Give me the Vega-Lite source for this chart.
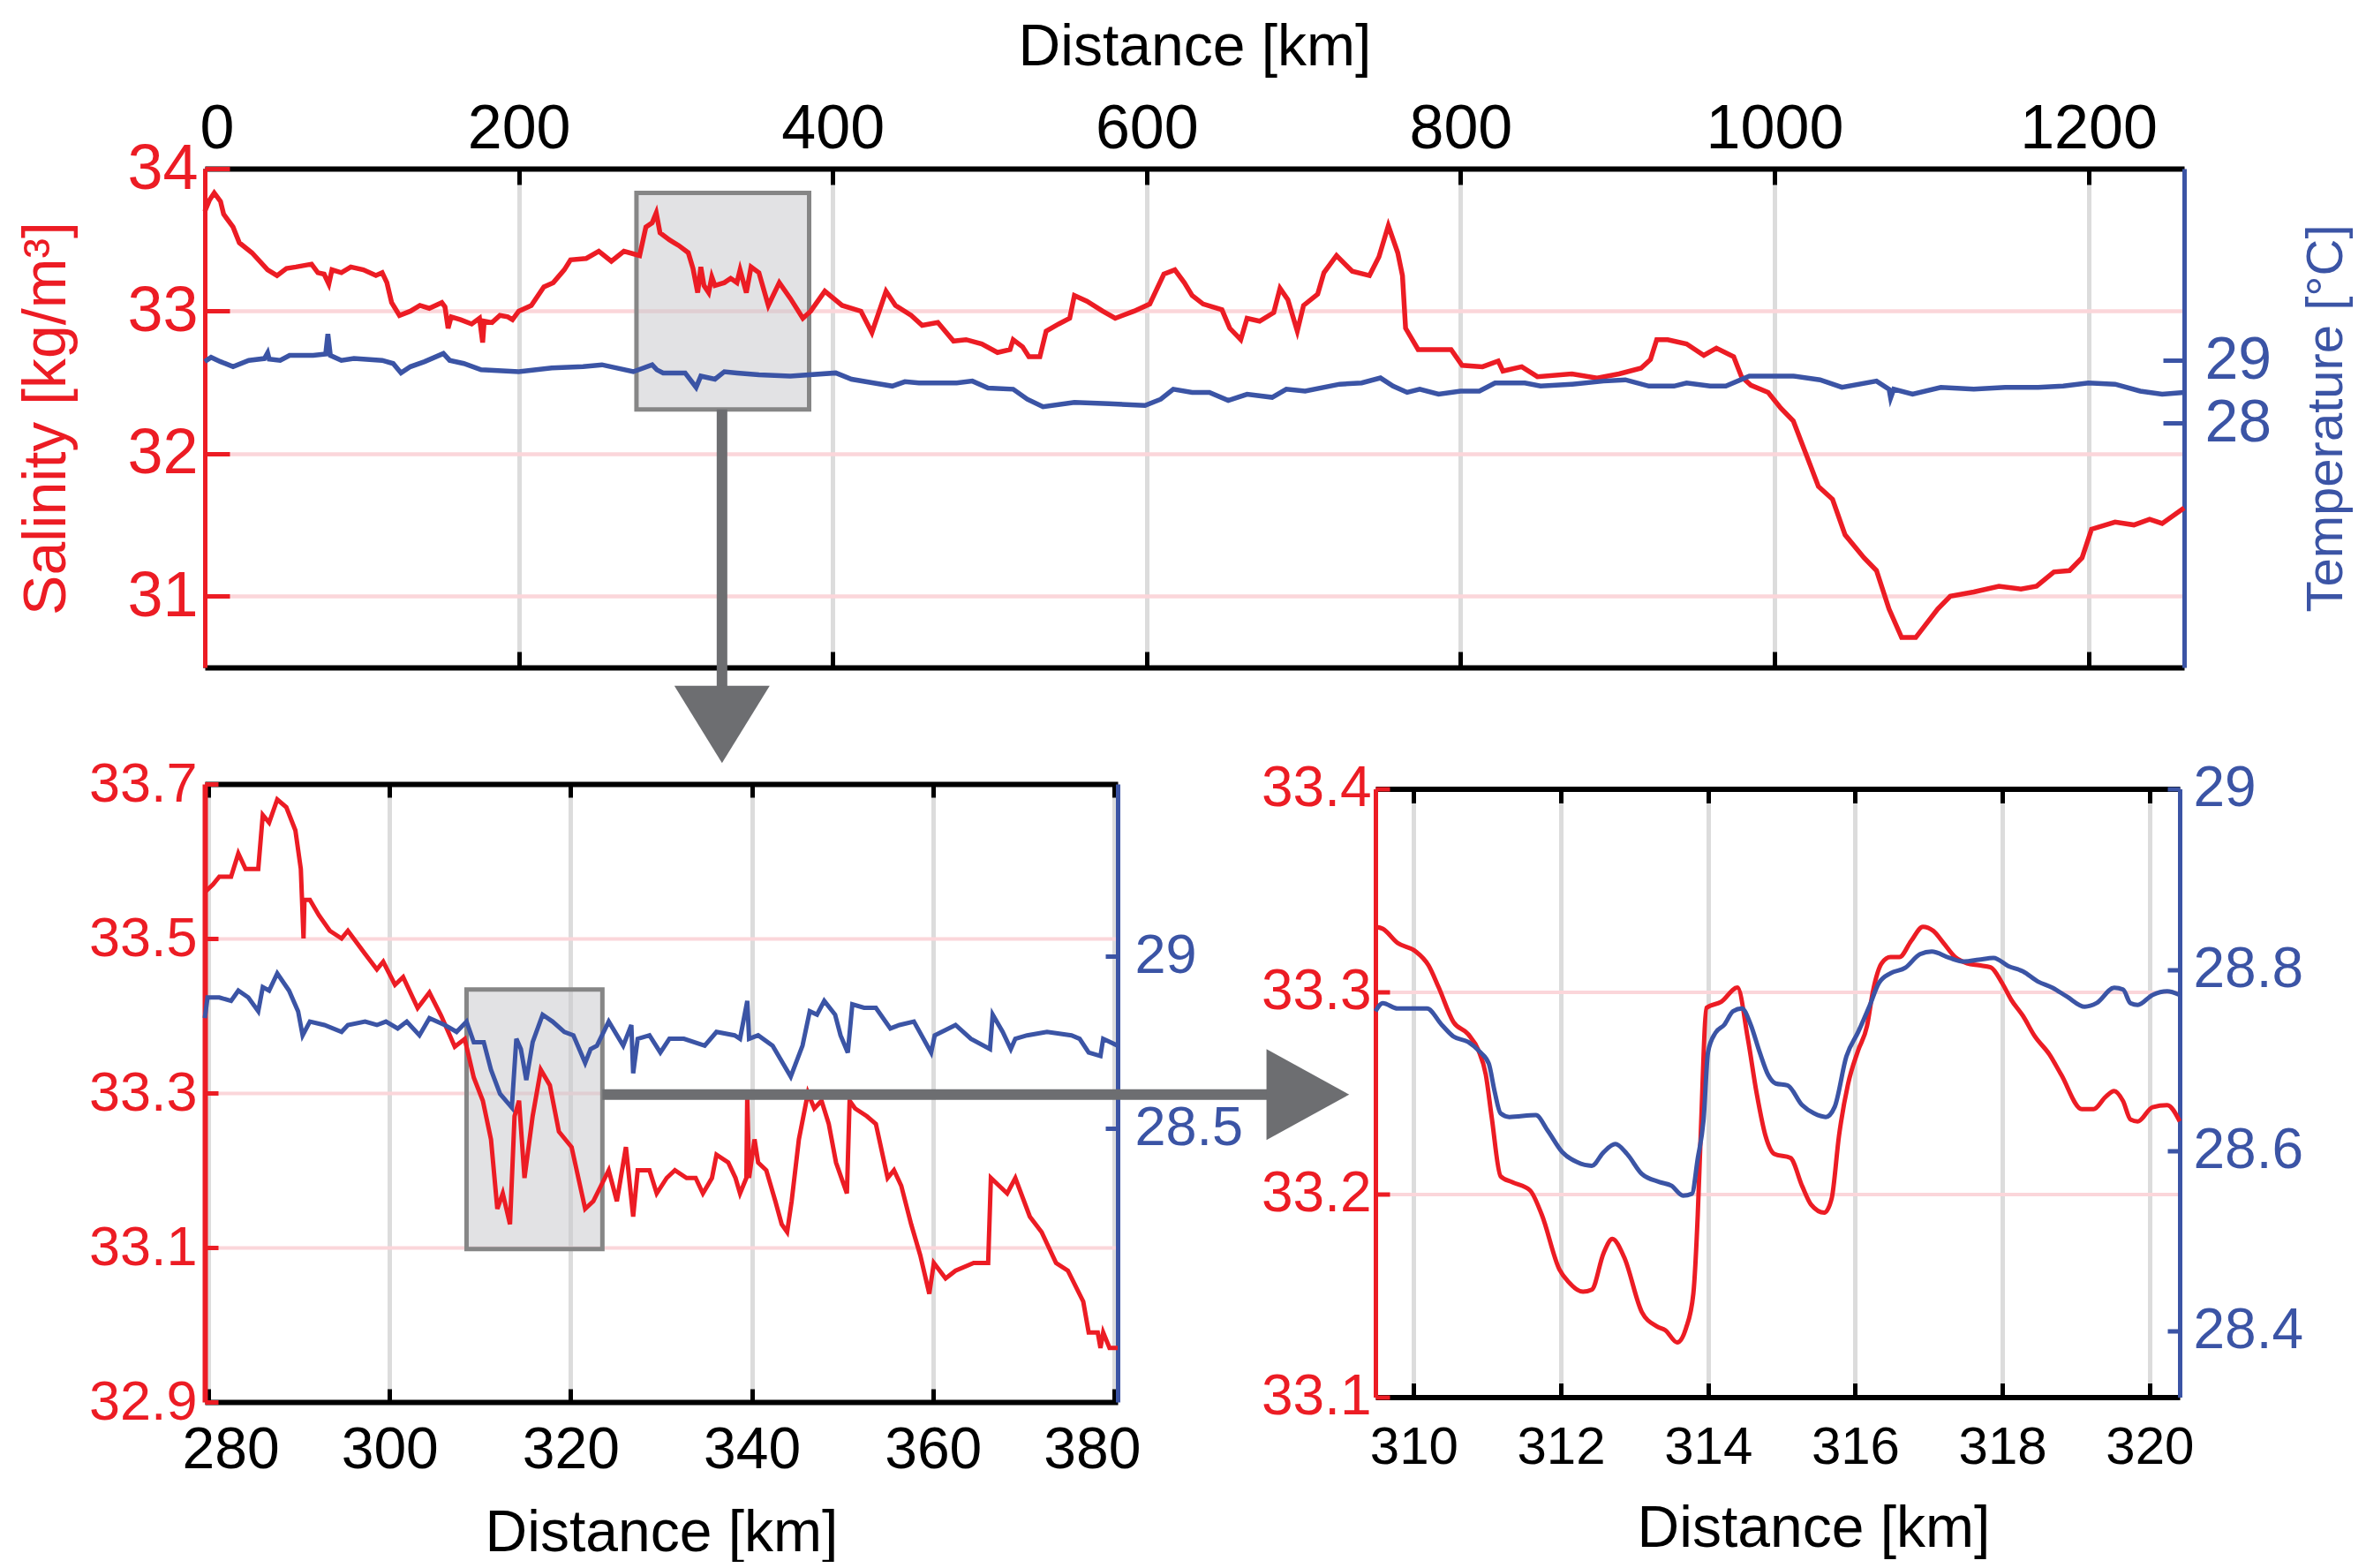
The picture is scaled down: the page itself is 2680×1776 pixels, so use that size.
{
"$schema": "https://vega.github.io/schema/vega-lite/v6.json",
"padding": {"left": 19, "top": 20, "right": 5, "bottom": 0},
"background": "white",
"config": {
  "view": {"stroke": null},
  "font": "Liberation Sans",
  "axis": {"labelFont": "Liberation Sans", "titleFont": "Liberation Sans", "titleFontWeight": "normal", "labelOverlap": false, "labelBound": false, "grid": false, "gridOpacity": 1, "tickOpacity": 1, "domainOpacity": 1}
},
"datasets": {
  "topSal": [
    {"d":0,"s":33.70},{"d":3,"s":33.78},{"d":6,"s":33.83},{"d":10,"s":33.77},{"d":12,"s":33.68},{"d":18,"s":33.59},{"d":22,"s":33.48},{"d":30,"s":33.41},{"d":40,"s":33.29},{"d":46,"s":33.25},{"d":52,"s":33.30},{"d":58,"s":33.31},{"d":68,"s":33.33},{"d":72,"s":33.27},{"d":76,"s":33.26},{"d":79,"s":33.19},{"d":81,"s":33.29},{"d":87,"s":33.27},{"d":93,"s":33.31},{"d":101,"s":33.29},{"d":109,"s":33.25},{"d":113,"s":33.27},{"d":116,"s":33.20},{"d":119,"s":33.06},{"d":124,"s":32.97},{"d":131,"s":33.00},{"d":137,"s":33.04},{"d":143,"s":33.02},{"d":151,"s":33.06},{"d":153,"s":33.03},{"d":155,"s":32.88},{"d":157,"s":32.96},{"d":163,"s":32.94},{"d":170,"s":32.91},{"d":175,"s":32.95},{"d":177,"s":32.78},{"d":178,"s":32.93},{"d":183,"s":32.92},{"d":188,"s":32.97},{"d":193,"s":32.96},{"d":196,"s":32.94},{"d":200,"s":33.00},{"d":208,"s":33.04},{"d":216,"s":33.17},{"d":222,"s":33.20},{"d":229,"s":33.29},{"d":233,"s":33.36},{"d":243,"s":33.37},{"d":251,"s":33.42},{"d":259,"s":33.35},{"d":267,"s":33.42},{"d":277,"s":33.39},{"d":281,"s":33.59},{"d":285,"s":33.62},{"d":287.6,"s":33.69},{"d":290,"s":33.55},{"d":296,"s":33.50},{"d":302,"s":33.46},{"d":308,"s":33.41},{"d":311,"s":33.30},{"d":314,"s":33.13},{"d":316,"s":33.31},{"d":318,"s":33.18},{"d":321,"s":33.13},{"d":323,"s":33.24},{"d":325,"s":33.18},{"d":331,"s":33.20},{"d":335,"s":33.23},{"d":339,"s":33.20},{"d":341,"s":33.29},{"d":345,"s":33.13},{"d":348,"s":33.31},{"d":353,"s":33.27},{"d":359,"s":33.04},{"d":366,"s":33.20},{"d":373,"s":33.09},{"d":381,"s":32.95},{"d":386,"s":33.00},{"d":395,"s":33.14},{"d":406,"s":33.04},{"d":418,"s":33.00},{"d":425,"s":32.85},{"d":434,"s":33.14},{"d":440,"s":33.04},{"d":450,"s":32.97},{"d":457,"s":32.90},{"d":467,"s":32.92},{"d":477,"s":32.79},{"d":485,"s":32.80},{"d":495,"s":32.77},{"d":505,"s":32.71},{"d":513,"s":32.73},{"d":515,"s":32.80},{"d":521,"s":32.75},{"d":525,"s":32.68},{"d":532,"s":32.68},{"d":536,"s":32.86},{"d":544,"s":32.91},{"d":551,"s":32.95},{"d":554,"s":33.11},{"d":562,"s":33.07},{"d":572,"s":33.00},{"d":580,"s":32.95},{"d":592,"s":33.00},{"d":602,"s":33.05},{"d":611,"s":33.26},{"d":618,"s":33.29},{"d":624,"s":33.20},{"d":629,"s":33.11},{"d":636,"s":33.05},{"d":648,"s":33.01},{"d":653,"s":32.88},{"d":660,"s":32.80},{"d":664,"s":32.95},{"d":672,"s":32.93},{"d":681,"s":32.99},{"d":685,"s":33.16},{"d":690,"s":33.08},{"d":696,"s":32.86},{"d":700,"s":33.04},{"d":709,"s":33.12},{"d":713,"s":33.27},{"d":721,"s":33.39},{"d":731,"s":33.28},{"d":742,"s":33.25},{"d":748,"s":33.38},{"d":754,"s":33.60},{"d":760,"s":33.41},{"d":763,"s":33.25},{"d":765,"s":32.88},{"d":773,"s":32.73},{"d":784,"s":32.73},{"d":794,"s":32.73},{"d":801,"s":32.62},{"d":814,"s":32.61},{"d":824,"s":32.65},{"d":827,"s":32.58},{"d":839,"s":32.61},{"d":849,"s":32.54},{"d":871,"s":32.56},{"d":887,"s":32.53},{"d":901,"s":32.56},{"d":915,"s":32.60},{"d":921,"s":32.66},{"d":925,"s":32.80},{"d":932,"s":32.80},{"d":944,"s":32.77},{"d":955,"s":32.69},{"d":963,"s":32.74},{"d":974,"s":32.68},{"d":979,"s":32.54},{"d":985,"s":32.48},{"d":996,"s":32.43},{"d":1004,"s":32.32},{"d":1012,"s":32.23},{"d":1020,"s":32.00},{"d":1028,"s":31.77},{"d":1037,"s":31.68},{"d":1045,"s":31.43},{"d":1057,"s":31.27},{"d":1065,"s":31.18},{"d":1073,"s":30.91},{"d":1081,"s":30.71},{"d":1090,"s":30.71},{"d":1104,"s":30.91},{"d":1112,"s":31.00},{"d":1127,"s":31.03},{"d":1143,"s":31.07},{"d":1157,"s":31.05},{"d":1167,"s":31.07},{"d":1178,"s":31.17},{"d":1188,"s":31.18},{"d":1196,"s":31.27},{"d":1202,"s":31.47},{"d":1217,"s":31.52},{"d":1229,"s":31.50},{"d":1239,"s":31.54},{"d":1247,"s":31.51},{"d":1261,"s":31.62}
  ],
  "topTemp": [
    {"d":0,"t":28.98},{"d":4,"t":29.05},{"d":10,"t":28.98},{"d":18,"t":28.90},{"d":28,"t":29.00},{"d":38,"t":29.03},{"d":40,"t":29.12},{"d":41,"t":29.02},{"d":48,"t":29.00},{"d":54,"t":29.08},{"d":69,"t":29.08},{"d":77,"t":29.10},{"d":78.4,"t":29.42},{"d":80,"t":29.08},{"d":87,"t":29.00},{"d":95,"t":29.03},{"d":113,"t":29.00},{"d":120,"t":28.95},{"d":125,"t":28.80},{"d":131,"t":28.90},{"d":140,"t":28.98},{"d":152,"t":29.11},{"d":156,"t":29.00},{"d":165,"t":28.95},{"d":176,"t":28.85},{"d":200,"t":28.82},{"d":221,"t":28.88},{"d":241,"t":28.90},{"d":253,"t":28.93},{"d":273,"t":28.82},{"d":285,"t":28.93},{"d":288,"t":28.85},{"d":292,"t":28.80},{"d":306,"t":28.80},{"d":313,"t":28.57},{"d":316,"t":28.75},{"d":325,"t":28.70},{"d":331,"t":28.82},{"d":339,"t":28.80},{"d":353,"t":28.77},{"d":373,"t":28.75},{"d":402,"t":28.80},{"d":412,"t":28.70},{"d":426,"t":28.64},{"d":438,"t":28.59},{"d":446,"t":28.66},{"d":455,"t":28.64},{"d":479,"t":28.64},{"d":489,"t":28.67},{"d":499,"t":28.56},{"d":515,"t":28.54},{"d":524,"t":28.38},{"d":534,"t":28.26},{"d":554,"t":28.33},{"d":576,"t":28.31},{"d":599,"t":28.28},{"d":609,"t":28.38},{"d":617,"t":28.54},{"d":629,"t":28.49},{"d":640,"t":28.49},{"d":652,"t":28.36},{"d":664,"t":28.46},{"d":680,"t":28.41},{"d":689,"t":28.54},{"d":701,"t":28.51},{"d":723,"t":28.62},{"d":737,"t":28.64},{"d":749,"t":28.72},{"d":757,"t":28.59},{"d":766,"t":28.49},{"d":774,"t":28.54},{"d":786,"t":28.46},{"d":800,"t":28.51},{"d":812,"t":28.51},{"d":822,"t":28.64},{"d":841,"t":28.64},{"d":851,"t":28.59},{"d":871,"t":28.62},{"d":891,"t":28.67},{"d":905,"t":28.69},{"d":920,"t":28.59},{"d":936,"t":28.59},{"d":944,"t":28.64},{"d":959,"t":28.59},{"d":969,"t":28.59},{"d":984,"t":28.75},{"d":1012,"t":28.75},{"d":1029,"t":28.69},{"d":1043,"t":28.57},{"d":1065,"t":28.67},{"d":1073,"t":28.54},{"d":1074,"t":28.40},{"d":1076,"t":28.54},{"d":1088,"t":28.46},{"d":1106,"t":28.57},{"d":1127,"t":28.54},{"d":1147,"t":28.57},{"d":1168,"t":28.57},{"d":1184,"t":28.59},{"d":1200,"t":28.64},{"d":1217,"t":28.62},{"d":1233,"t":28.51},{"d":1247,"t":28.46},{"d":1261,"t":28.49}
  ],
  "blSal": [
    {"d":279.6,"s":33.56},{"d":280.5,"s":33.57},{"d":281.2,"s":33.58},{"d":282.5,"s":33.58},{"d":283.3,"s":33.61},{"d":284.1,"s":33.59},{"d":285.5,"s":33.59},{"d":286.0,"s":33.66},{"d":286.7,"s":33.65},{"d":287.6,"s":33.68},{"d":288.6,"s":33.67},{"d":289.6,"s":33.64},{"d":290.2,"s":33.59},{"d":290.5,"s":33.50},{"d":290.6,"s":33.55},{"d":291.2,"s":33.55},{"d":292.2,"s":33.53},{"d":293.4,"s":33.51},{"d":294.7,"s":33.50},{"d":295.4,"s":33.51},{"d":297.3,"s":33.48},{"d":298.6,"s":33.46},{"d":299.3,"s":33.47},{"d":300.6,"s":33.44},{"d":301.5,"s":33.45},{"d":303.1,"s":33.41},{"d":304.4,"s":33.43},{"d":305.7,"s":33.40},{"d":307.2,"s":33.36},{"d":308.3,"s":33.37},{"d":309.3,"s":33.32},{"d":310.3,"s":33.29},{"d":311.2,"s":33.24},{"d":311.9,"s":33.15},{"d":312.5,"s":33.17},{"d":313.3,"s":33.13},{"d":313.8,"s":33.27},{"d":314.3,"s":33.29},{"d":314.9,"s":33.19},{"d":315.8,"s":33.27},{"d":316.7,"s":33.33},{"d":317.7,"s":33.31},{"d":318.7,"s":33.25},{"d":320.1,"s":33.23},{"d":321.6,"s":33.15},{"d":322.5,"s":33.16},{"d":324.2,"s":33.20},{"d":325.1,"s":33.16},{"d":326.1,"s":33.23},{"d":326.9,"s":33.14},{"d":327.4,"s":33.20},{"d":328.7,"s":33.20},{"d":329.5,"s":33.17},{"d":330.6,"s":33.19},{"d":331.5,"s":33.20},{"d":332.8,"s":33.19},{"d":333.8,"s":33.19},{"d":334.6,"s":33.17},{"d":335.6,"s":33.19},{"d":336.1,"s":33.22},{"d":337.4,"s":33.21},{"d":338.2,"s":33.19},{"d":338.7,"s":33.17},{"d":339.4,"s":33.19},{"d":339.5,"s":33.30},{"d":339.7,"s":33.19},{"d":340.3,"s":33.24},{"d":340.7,"s":33.21},{"d":341.6,"s":33.20},{"d":342.6,"s":33.16},{"d":343.3,"s":33.13},{"d":343.9,"s":33.12},{"d":344.4,"s":33.16},{"d":345.2,"s":33.24},{"d":346.2,"s":33.30},{"d":346.9,"s":33.28},{"d":347.7,"s":33.29},{"d":348.5,"s":33.26},{"d":349.3,"s":33.21},{"d":350.5,"s":33.17},{"d":350.8,"s":33.29},{"d":351.4,"s":33.28},{"d":352.7,"s":33.27},{"d":353.7,"s":33.26},{"d":355.0,"s":33.19},{"d":355.7,"s":33.20},{"d":356.5,"s":33.18},{"d":357.6,"s":33.13},{"d":358.6,"s":33.09},{"d":359.6,"s":33.04},{"d":360.1,"s":33.08},{"d":361.4,"s":33.06},{"d":362.5,"s":33.07},{"d":364.5,"s":33.08},{"d":366.1,"s":33.08},{"d":366.4,"s":33.19},{"d":368.2,"s":33.17},{"d":369.1,"s":33.19},{"d":370.7,"s":33.14},{"d":372.0,"s":33.12},{"d":373.6,"s":33.08},{"d":374.9,"s":33.07},{"d":376.6,"s":33.03},{"d":377.2,"s":32.99},{"d":378.2,"s":32.99},{"d":378.5,"s":32.97},{"d":378.8,"s":32.99},{"d":379.5,"s":32.97},{"d":380.4,"s":32.97}
  ],
  "blTemp": [
    {"d":279.6,"t":28.82},{"d":279.9,"t":28.88},{"d":281.2,"t":28.88},{"d":282.5,"t":28.87},{"d":283.3,"t":28.90},{"d":284.4,"t":28.88},{"d":285.5,"t":28.84},{"d":286.0,"t":28.91},{"d":286.7,"t":28.90},{"d":287.6,"t":28.95},{"d":288.9,"t":28.90},{"d":289.9,"t":28.84},{"d":290.4,"t":28.77},{"d":291.2,"t":28.81},{"d":292.8,"t":28.80},{"d":294.7,"t":28.78},{"d":295.4,"t":28.80},{"d":297.3,"t":28.81},{"d":298.6,"t":28.80},{"d":299.6,"t":28.81},{"d":300.9,"t":28.79},{"d":301.9,"t":28.81},{"d":303.3,"t":28.77},{"d":304.4,"t":28.82},{"d":306.1,"t":28.80},{"d":307.4,"t":28.78},{"d":308.5,"t":28.81},{"d":309.3,"t":28.75},{"d":310.4,"t":28.75},{"d":311.2,"t":28.67},{"d":312.2,"t":28.60},{"d":313.5,"t":28.56},{"d":314.0,"t":28.76},{"d":314.5,"t":28.73},{"d":315.1,"t":28.64},{"d":315.8,"t":28.75},{"d":316.9,"t":28.83},{"d":318.0,"t":28.81},{"d":319.3,"t":28.78},{"d":320.3,"t":28.77},{"d":321.6,"t":28.69},{"d":322.2,"t":28.73},{"d":322.9,"t":28.74},{"d":324.2,"t":28.81},{"d":325.8,"t":28.74},{"d":326.7,"t":28.80},{"d":326.9,"t":28.66},{"d":327.4,"t":28.76},{"d":328.7,"t":28.77},{"d":329.9,"t":28.72},{"d":330.9,"t":28.76},{"d":332.5,"t":28.76},{"d":334.8,"t":28.74},{"d":336.1,"t":28.78},{"d":338.1,"t":28.77},{"d":338.7,"t":28.76},{"d":339.5,"t":28.87},{"d":339.7,"t":28.76},{"d":340.7,"t":28.77},{"d":342.3,"t":28.74},{"d":344.3,"t":28.65},{"d":345.6,"t":28.74},{"d":346.4,"t":28.84},{"d":347.2,"t":28.83},{"d":348.0,"t":28.87},{"d":349.2,"t":28.83},{"d":349.8,"t":28.77},{"d":350.6,"t":28.72},{"d":351.1,"t":28.86},{"d":352.4,"t":28.85},{"d":353.7,"t":28.85},{"d":355.3,"t":28.79},{"d":356.3,"t":28.80},{"d":357.9,"t":28.81},{"d":359.8,"t":28.72},{"d":360.2,"t":28.77},{"d":362.5,"t":28.80},{"d":364.2,"t":28.76},{"d":366.3,"t":28.73},{"d":366.6,"t":28.83},{"d":367.7,"t":28.78},{"d":368.6,"t":28.73},{"d":369.1,"t":28.76},{"d":370.4,"t":28.77},{"d":372.6,"t":28.78},{"d":375.3,"t":28.77},{"d":376.2,"t":28.76},{"d":377.2,"t":28.72},{"d":378.5,"t":28.71},{"d":378.8,"t":28.76},{"d":380.4,"t":28.74}
  ],
  "brSal": [
    {"d":309.48,"s":33.332},{"d":309.58,"s":33.331},{"d":309.78,"s":33.324},{"d":310.02,"s":33.320},{"d":310.2,"s":33.313},{"d":310.34,"s":33.302},{"d":310.54,"s":33.285},{"d":310.74,"s":33.279},{"d":310.88,"s":33.271},{"d":310.98,"s":33.259},{"d":311.06,"s":33.238},{"d":311.18,"s":33.209},{"d":311.34,"s":33.206},{"d":311.58,"s":33.202},{"d":311.74,"s":33.190},{"d":311.98,"s":33.163},{"d":312.1,"s":33.157},{"d":312.3,"s":33.152},{"d":312.42,"s":33.153},{"d":312.58,"s":33.171},{"d":312.7,"s":33.178},{"d":312.86,"s":33.169},{"d":313.1,"s":33.142},{"d":313.3,"s":33.135},{"d":313.42,"s":33.133},{"d":313.58,"s":33.127},{"d":313.7,"s":33.134},{"d":313.8,"s":33.151},{"d":313.86,"s":33.190},{"d":313.9,"s":33.229},{"d":313.98,"s":33.292},{"d":314.18,"s":33.295},{"d":314.4,"s":33.302},{"d":314.54,"s":33.277},{"d":314.66,"s":33.250},{"d":314.78,"s":33.229},{"d":314.9,"s":33.220},{"d":315.12,"s":33.218},{"d":315.28,"s":33.204},{"d":315.4,"s":33.195},{"d":315.58,"s":33.191},{"d":315.68,"s":33.198},{"d":315.78,"s":33.229},{"d":315.9,"s":33.254},{"d":316.04,"s":33.271},{"d":316.16,"s":33.283},{"d":316.24,"s":33.300},{"d":316.36,"s":33.314},{"d":316.48,"s":33.317},{"d":316.6,"s":33.317},{"d":316.76,"s":33.325},{"d":316.92,"s":33.332},{"d":317.06,"s":33.330},{"d":317.2,"s":33.324},{"d":317.36,"s":33.317},{"d":317.52,"s":33.314},{"d":317.68,"s":33.313},{"d":317.84,"s":33.312},{"d":318.0,"s":33.304},{"d":318.12,"s":33.296},{"d":318.28,"s":33.288},{"d":318.44,"s":33.278},{"d":318.64,"s":33.269},{"d":318.8,"s":33.259},{"d":319.08,"s":33.242},{"d":319.24,"s":33.242},{"d":319.4,"s":33.248},{"d":319.52,"s":33.251},{"d":319.64,"s":33.246},{"d":319.74,"s":33.237},{"d":319.84,"s":33.236},{"d":320.04,"s":33.243},{"d":320.24,"s":33.244},{"d":320.41,"s":33.236}
  ],
  "brTemp": [
    {"d":309.48,"t":28.754},{"d":309.58,"t":28.763},{"d":309.78,"t":28.757},{"d":310.18,"t":28.757},{"d":310.38,"t":28.739},{"d":310.54,"t":28.726},{"d":310.74,"t":28.720},{"d":310.9,"t":28.709},{"d":311.02,"t":28.696},{"d":311.1,"t":28.665},{"d":311.18,"t":28.641},{"d":311.3,"t":28.637},{"d":311.66,"t":28.639},{"d":311.82,"t":28.622},{"d":312.02,"t":28.598},{"d":312.22,"t":28.587},{"d":312.42,"t":28.583},{"d":312.58,"t":28.598},{"d":312.74,"t":28.607},{"d":312.9,"t":28.596},{"d":313.1,"t":28.574},{"d":313.34,"t":28.565},{"d":313.5,"t":28.561},{"d":313.66,"t":28.550},{"d":313.78,"t":28.552},{"d":313.86,"t":28.591},{"d":313.94,"t":28.635},{"d":314.0,"t":28.709},{"d":314.1,"t":28.730},{"d":314.22,"t":28.739},{"d":314.34,"t":28.754},{"d":314.46,"t":28.757},{"d":314.58,"t":28.739},{"d":314.7,"t":28.709},{"d":314.82,"t":28.683},{"d":314.92,"t":28.674},{"d":315.08,"t":28.672},{"d":315.28,"t":28.650},{"d":315.44,"t":28.641},{"d":315.6,"t":28.637},{"d":315.72,"t":28.648},{"d":315.88,"t":28.704},{"d":316.04,"t":28.731},{"d":316.2,"t":28.761},{"d":316.32,"t":28.785},{"d":316.48,"t":28.796},{"d":316.68,"t":28.802},{"d":316.88,"t":28.817},{"d":317.04,"t":28.820},{"d":317.28,"t":28.813},{"d":317.48,"t":28.809},{"d":317.68,"t":28.811},{"d":317.88,"t":28.813},{"d":318.08,"t":28.804},{"d":318.28,"t":28.798},{"d":318.48,"t":28.787},{"d":318.68,"t":28.780},{"d":318.88,"t":28.770},{"d":319.12,"t":28.759},{"d":319.28,"t":28.763},{"d":319.52,"t":28.780},{"d":319.64,"t":28.778},{"d":319.74,"t":28.763},{"d":319.84,"t":28.761},{"d":320.04,"t":28.772},{"d":320.24,"t":28.776},{"d":320.41,"t":28.772}
  ],
  "topBox": [{"x1": 275, "x2": 385, "y1": 32.31, "y2": 33.83}],
  "topArrow": [{"d": 329.5, "s1": 32.31, "s2": 30.35}],
  "topHead": [{"d": 329.5, "s": 30.10}],
  "blBox": [{"x1": 308.5, "x2": 323.5, "y1": 33.098, "y2": 33.434}],
  "blArrow": [{"d1": 323.5, "d2": 397.6, "s": 33.298}],
  "blHead": [{"d": 401.4, "s": 33.298}]
},
"bounds": "flush",
"spacing": 132,
"vconcat": [
  {
    "width": 2242, "height": 565,
    "resolve": {"scale": {"y": "independent"}},
    "layer": [
      {
        "layer": [
          {"data": {"name": "topBox"},
           "mark": {"type": "rect", "fill": "#c5c6c9", "fillOpacity": 0.5, "stroke": "#868686", "strokeWidth": 5},
           "encoding": {
             "x": {"field": "x1", "type": "quantitative", "scale": {"domain": [0, 1261], "nice": false, "zero": false},
                   "axis": {"orient": "bottom", "values": [0,200,400,600,800,1000,1200], "labels": false, "title": null, "tickSize": -18, "tickWidth": 5, "tickColor": "#000000", "domainColor": "#000000", "domainWidth": 6, "grid": false}},
             "x2": {"field": "x2"},
             "y": {"field": "y1", "type": "quantitative", "scale": {"domain": [30.5, 34], "nice": false, "zero": false},
                   "axis": {"orient": "left", "values": [31,32,33,34], "format": "d", "title": "Salinity [kg/m³]", "titleColor": "#ec1c24", "titleFontSize": 68, "titlePadding": 56, "labelColor": "#ec1c24", "labelFontSize": 72, "labelPadding": 36, "labelFlush": false, "tickSize": -28, "tickWidth": 5, "tickColor": "#ec1c24", "domainColor": "#ec1c24", "domainWidth": 5, "grid": true, "gridColor": "#fbd6da", "gridWidth": 4.5}},
             "y2": {"field": "y2"}
           }},
          {"data": {"name": "topSal"},
           "mark": {"type": "line", "color": "#ec1c24", "strokeWidth": 5.5},
           "encoding": {
             "x": {"field": "d", "type": "quantitative",
                   "axis": {"orient": "top", "values": [0,200,400,600,800,1000,1200], "format": "d", "title": "Distance [km]", "titleColor": "#000000", "titleFontSize": 66, "titlePadding": 24, "labelColor": "#000000", "labelFontSize": 70, "labelPadding": 27, "labelFlush": true, "labelFlushOffset": 6, "tickSize": -18, "tickWidth": 5, "tickColor": "#000000", "domainColor": "#000000", "domainWidth": 6, "grid": true, "gridColor": "#dcdcdc", "gridWidth": 5}},
             "y": {"field": "s", "type": "quantitative"}
           }},
          {"data": {"name": "topArrow"},
           "mark": {"type": "rule", "color": "#6d6e71", "strokeWidth": 12},
           "encoding": {
             "x": {"field": "d", "type": "quantitative", "axis": null},
             "y": {"field": "s1", "type": "quantitative"},
             "y2": {"field": "s2"}
           }},
          {"data": {"name": "topHead"},
           "mark": {"type": "point", "shape": "M-1,-0.81L1,-0.81L0,0.81Z", "filled": true, "color": "#6d6e71", "opacity": 1, "size": 11664, "strokeWidth": 0},
           "encoding": {
             "x": {"field": "d", "type": "quantitative", "axis": null},
             "y": {"field": "s", "type": "quantitative"}
           }}
        ]
      },
      {"data": {"name": "topTemp"},
       "mark": {"type": "line", "color": "#3b54a5", "strokeWidth": 5.5},
       "encoding": {
         "x": {"field": "d", "type": "quantitative", "axis": null},
         "y": {"field": "t", "type": "quantitative", "scale": {"domain": [24.1, 32.06], "nice": false, "zero": false},
               "axis": {"orient": "right", "values": [28, 29], "format": "d", "title": "Temperature [°C]", "titleColor": "#3b54a5", "titleFontSize": 58, "titleAngle": 270, "titleBaseline": "top", "titlePadding": 34, "labelColor": "#3b54a5", "labelFontSize": 68, "labelPadding": 47, "labelFlush": false, "tickSize": -24, "tickWidth": 5, "tickColor": "#3b54a5", "domainColor": "#3b54a5", "domainWidth": 5, "grid": false}}
       }}
    ]
  },
  {
    "bounds": "flush",
    "spacing": 292,
    "center": true,
    "hconcat": [
      {
        "width": 1034, "height": 700,
        "resolve": {"scale": {"y": "independent"}},
        "layer": [
          {
            "layer": [
              {"data": {"name": "blBox"},
               "mark": {"type": "rect", "fill": "#c5c6c9", "fillOpacity": 0.5, "stroke": "#868686", "strokeWidth": 5},
               "encoding": {
                 "x": {"field": "x1", "type": "quantitative", "scale": {"domain": [279.6, 380.4], "nice": false, "zero": false},
                       "axis": {"orient": "top", "values": [280,300,320,340,360,380], "labels": false, "title": null, "tickSize": -15, "tickWidth": 5, "tickColor": "#000000", "domainColor": "#000000", "domainWidth": 6, "grid": false}},
                 "x2": {"field": "x2"},
                 "y": {"field": "y1", "type": "quantitative", "scale": {"domain": [32.9, 33.7], "nice": false, "zero": false},
                       "axis": {"orient": "left", "values": [32.9,33.1,33.3,33.5,33.7], "format": ".1f", "title": null, "labelColor": "#ec1c24", "labelFontSize": 63, "labelPadding": 24, "labelFlush": false, "tickSize": -15, "tickWidth": 5, "tickColor": "#ec1c24", "domainColor": "#ec1c24", "domainWidth": 6, "grid": true, "gridColor": "#fbd6da", "gridWidth": 4}},
                 "y2": {"field": "y2"}
               }},
              {"data": {"name": "blSal"},
               "mark": {"type": "line", "color": "#ec1c24", "strokeWidth": 5},
               "encoding": {
                 "x": {"field": "d", "type": "quantitative",
                       "axis": {"orient": "bottom", "values": [280,300,320,340,360,380], "format": "d", "title": "Distance [km]", "titleColor": "#000000", "titleFontSize": 66, "titlePadding": 29, "labelColor": "#000000", "labelFontSize": 66, "labelPadding": 37, "labelFlush": 10, "labelFlushOffset": 30, "tickSize": -15, "tickWidth": 5, "tickColor": "#000000", "domainColor": "#000000", "domainWidth": 6, "grid": true, "gridColor": "#dcdcdc", "gridWidth": 5}},
                 "y": {"field": "s", "type": "quantitative"}
               }},
              {"data": {"name": "blArrow"},
               "mark": {"type": "rule", "color": "#6d6e71", "strokeWidth": 12},
               "encoding": {
                 "x": {"field": "d1", "type": "quantitative", "axis": null},
                 "x2": {"field": "d2"},
                 "y": {"field": "s", "type": "quantitative"}
               }},
              {"data": {"name": "blHead"},
               "mark": {"type": "point", "shape": "M-0.91,-1L0.91,0L-0.91,1Z", "filled": true, "color": "#6d6e71", "opacity": 1, "size": 10609, "strokeWidth": 0},
               "encoding": {
                 "x": {"field": "d", "type": "quantitative", "axis": null},
                 "y": {"field": "s", "type": "quantitative"}
               }}
            ]
          },
          {"data": {"name": "blTemp"},
           "mark": {"type": "line", "color": "#3b54a5", "strokeWidth": 5},
           "encoding": {
             "x": {"field": "d", "type": "quantitative", "axis": null},
             "y": {"field": "t", "type": "quantitative", "scale": {"domain": [27.705, 29.5], "nice": false, "zero": false},
                   "axis": {"orient": "right", "values": [28.5, 29], "format": ".3~g", "title": null, "labelColor": "#3b54a5", "labelFontSize": 63, "labelPadding": 33, "labelFlush": false, "tickSize": -14, "tickWidth": 5, "tickColor": "#3b54a5", "domainColor": "#3b54a5", "domainWidth": 5, "grid": false}}
           }}
        ]
      },
      {
        "width": 911, "height": 689,
        "resolve": {"scale": {"y": "independent"}},
        "layer": [
          {"data": {"name": "brSal"},
           "mark": {"type": "line", "color": "#ec1c24", "strokeWidth": 5, "interpolate": "monotone"},
           "encoding": {
             "x": {"field": "d", "type": "quantitative", "scale": {"domain": [309.48, 320.41], "nice": false, "zero": false},
                   "axis": {"orient": "bottom", "values": [310,312,314,316,318,320], "format": "d", "title": "Distance [km]", "titleColor": "#000000", "titleFontSize": 66, "titlePadding": 30, "titleX": 496, "labelColor": "#000000", "labelFontSize": 60, "labelPadding": 44, "labelFlush": false, "tickSize": -16, "tickWidth": 5, "tickColor": "#000000", "domainColor": "#000000", "domainWidth": 6, "grid": true, "gridColor": "#dcdcdc", "gridWidth": 5}},
             "y": {"field": "s", "type": "quantitative", "scale": {"domain": [33.1, 33.4], "nice": false, "zero": false},
                   "axis": {"orient": "left", "values": [33.1,33.2,33.3,33.4], "format": ".1f", "title": null, "labelColor": "#ec1c24", "labelFontSize": 64, "labelPadding": 21, "labelFlush": false, "tickSize": -16, "tickWidth": 5, "tickColor": "#ec1c24", "domainColor": "#ec1c24", "domainWidth": 5, "grid": true, "gridColor": "#fbd6da", "gridWidth": 4}}
           }},
          {"data": {"name": "brTemp"},
           "mark": {"type": "line", "color": "#3b54a5", "strokeWidth": 5, "interpolate": "monotone"},
           "encoding": {
             "x": {"field": "d", "type": "quantitative",
                   "axis": {"orient": "top", "values": [310,312,314,316,318,320], "labels": false, "title": null, "tickSize": -16, "tickWidth": 5, "tickColor": "#000000", "domainColor": "#000000", "domainWidth": 6, "grid": false}},
             "y": {"field": "t", "type": "quantitative", "scale": {"domain": [28.327, 29.0], "nice": false, "zero": false},
                   "axis": {"orient": "right", "values": [28.4,28.6,28.8,29], "format": ".3~g", "title": null, "labelColor": "#3b54a5", "labelFontSize": 64, "labelPadding": 29, "labelFlush": false, "tickSize": -14, "tickWidth": 5, "tickColor": "#3b54a5", "domainColor": "#3b54a5", "domainWidth": 5, "grid": false}}
           }}
        ]
      }
    ]
  }
]
}
